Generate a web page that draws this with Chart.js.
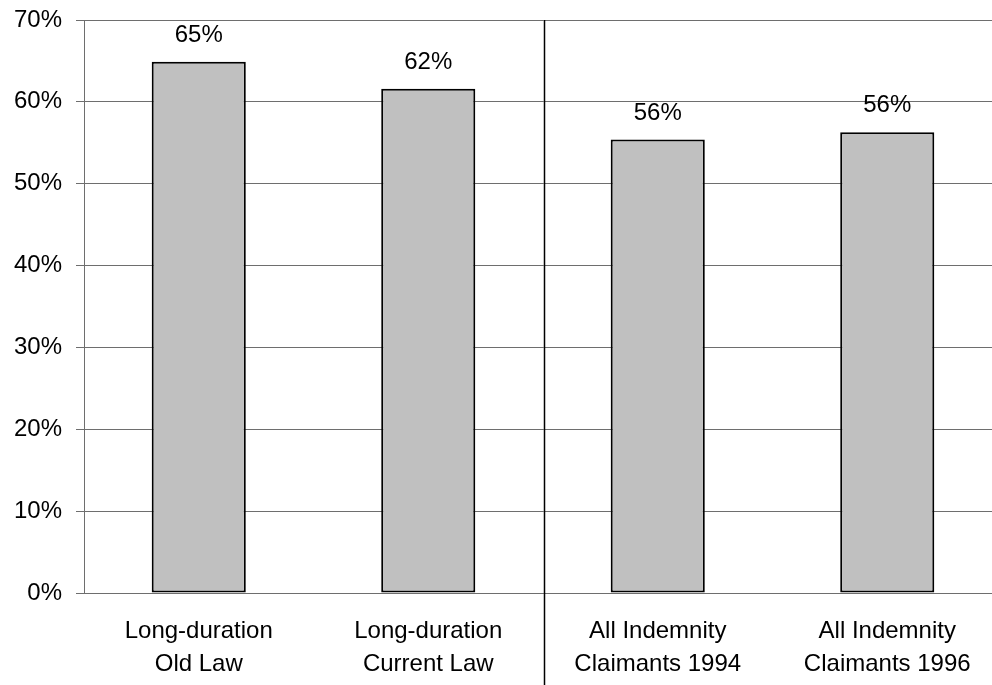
<!DOCTYPE html>
<html>
<head>
<meta charset="utf-8">
<script src="https://cdn.jsdelivr.net/npm/chart.js@4.4.1/dist/chart.umd.min.js"></script>
<style>
    html, body { margin: 0; padding: 0; background: #ffffff; overflow: hidden; }
    #wrap { width: 1002px; height: 685px; }
</style>
</head>
<body>
<div id="wrap"><canvas id="claimChart"></canvas></div>
<script>
"use strict";

// values (percent)
const categories  = [
    ["Long-duration", "Old Law"],
    ["Long-duration", "Current Law"],
    ["All Indemnity", "Claimants 1994"],
    ["All Indemnity", "Claimants 1996"]
];
const shareValues = [64.9, 61.6, 55.4, 56.3];
const valueLabels = ["65%", "62%", "56%", "56%"];
const yTicks      = [0, 10, 20, 30, 40, 50, 60, 70];

const fontFamily = "'Liberation Sans', Arial, sans-serif";

// draws the number above each bar
const barValuePlugin = {
    id: "barValues",
    afterDatasetsDraw: function (chart)
    {
        const ctx  = chart.ctx;
        const meta = chart.getDatasetMeta(0);

        ctx.save();
        ctx.font         = "24px " + fontFamily;
        ctx.fillStyle    = "#000000";
        ctx.textAlign    = "center";
        ctx.textBaseline = "alphabetic";
        meta.data.forEach((bar, i) =>
        {
            ctx.fillText(valueLabels[i], bar.x, bar.y - 20);
        });
        ctx.restore();
    }
};

// vertical divider between the two groups
const dividerPlugin = {
    id: "divider",
    afterDraw: function (chart)
    {
        const ctx = chart.ctx;
        const x   = chart.scales.x;
        const px  = Math.round((x.getPixelForValue(1) + x.getPixelForValue(2)) / 2) + 1.5;

        ctx.save();
        ctx.strokeStyle = "#000000";
        ctx.lineWidth   = 1.5;
        ctx.beginPath();
        ctx.moveTo(px, chart.chartArea.top);
        ctx.lineTo(px, chart.height);
        ctx.stroke();
        ctx.restore();
    }
};

new Chart(document.getElementById("claimChart").getContext("2d"), {
    type:    "bar",
    data:    {
        labels:   categories,
        datasets: [
            {
                data:               shareValues,
                backgroundColor:    "#c0c0c0",
                borderColor:        "#000000",
                borderWidth:        2,
                borderSkipped:      false,
                categoryPercentage: 1.0,
                barPercentage:      0.41
            }
        ]
    },
    options: {
        responsive:          true,
        maintainAspectRatio: false,
        animation:           false,
        layout:              {
            padding: { top: 20, left: 0, right: 0, bottom: 0 }
        },
        scales:  {
            x: {
                grid:   {
                    display:   false,
                    drawTicks: false
                },
                border: {
                    display: true,
                    color:   "#6e6e6e",
                    width:   1
                },
                ticks:  {
                    color:       "#000000",
                    maxRotation: 0,
                    autoSkip:    false,
                    padding:     22,
                    font:        { family: fontFamily, size: 24, lineHeight: 1.38 }
                },
                afterFit: function (scale)
                {
                    scale.height = 92;
                }
            },
            y: {
                min:    0,
                max:    70,
                afterBuildTicks: function (scale)
                {
                    scale.ticks = yTicks.map(v => ({ value: v }));
                },
                grid:   {
                    color:      "#6e6e6e",
                    lineWidth:  1,
                    drawTicks:  true,
                    tickLength: 8
                },
                border: {
                    display: true,
                    color:   "#6e6e6e",
                    width:   1
                },
                ticks:  {
                    color:    "#000000",
                    padding:  14,
                    font:     { family: fontFamily, size: 24, lineHeight: 0.5 },
                    callback: function (value)
                              {
                                  return value + "%";
                              }
                },
                afterFit: function (scale)
                {
                    scale.width = 84;
                }
            }
        },
        plugins: {
            legend:  { display: false },
            tooltip: { enabled: false }
        }
    },
    plugins: [barValuePlugin, dividerPlugin]
});
</script>
</body>
</html>
